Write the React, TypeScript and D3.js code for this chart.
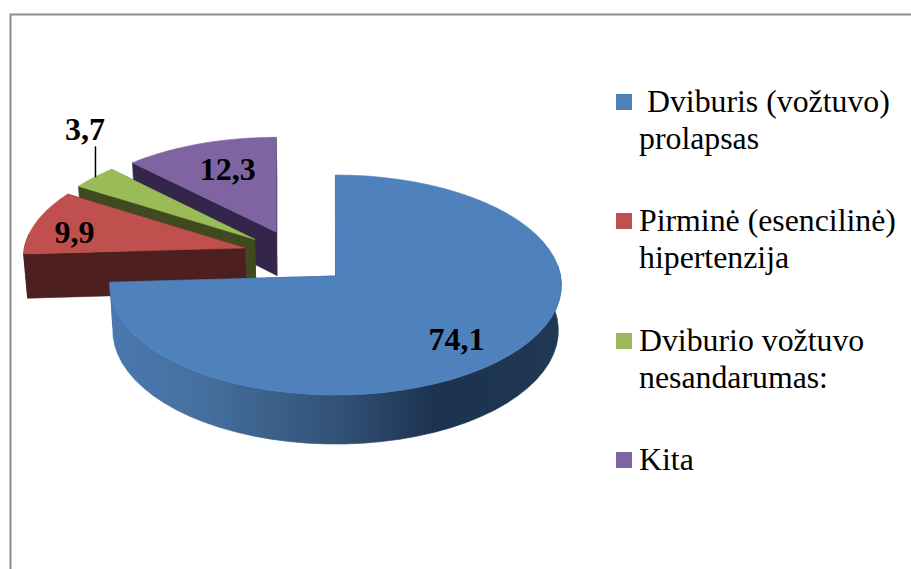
import React, { useEffect, useRef } from 'react';
import * as d3 from 'd3';

const width = 911;
const height = 569;

const categories = [
  ' Dviburis (vožtuvo)|prolapsas',
  'Pirminė (esencilinė)|hipertenzija',
  'Dviburio vožtuvo|nesandarumas:',
  'Kita'
];
const values = [74.1, 9.9, 3.7, 12.3];
const valueLabels = ['74,1', '9,9', '3,7', '12,3'];

const topColors = ['#4f81bd', '#c0504d', '#9bbb59', '#8064a2'];
const wallColors = ['#2f4d73', '#4d1f1f', '#3f4a20', '#33264a'];

// how far each slice is pulled out of the pie, in pie radius units (right, back)
const explode = [[0.007, 0], [-0.4, 0.262], [-0.355, 0.345], [-0.257, 0.416]];
// the point each slice's sides converge to
const vanishX = [334, 276, 276, 276];
// where the value label sits along the slice's middle angle
const labelRadius = [0.76, 0.78, 1, 0.67];
const labelNudge = [[-9, 4], [-7, 5], [1, -6], [4, -2]];
// slices are painted back to front
const paintOrder = [3, 2, 1, 0];

const cx = 334;
const cy = 276;
const rx = 225;
const ry = 109.3;
const persp = 0.082;
const depth = 45;
const bottomShrink = 0.013;

const legendTop = [94, 213, 333, 452];
const legendLineHeight = 36.5;

function project(u: number, v: number, z = 0, vx = cx): [number, number] {
  const s = 1 / (1 + persp * v);
  const x = vx + (cx - vx + rx * u) * s;
  return [cx + (x - cx) * (1 - (bottomShrink * z) / depth), cy - ry * v * s + z * s];
}

function App() {
  const ref = useRef<SVGSVGElement>(null);

  useEffect(() => {
    const svg = d3.select(ref.current);
    svg.selectAll('*').remove();

    const grad = svg
      .append('defs')
      .append('linearGradient')
      .attr('id', 'blueWall')
      .attr('gradientUnits', 'userSpaceOnUse')
      .attr('x1', 111)
      .attr('x2', 561)
      .attr('y1', 0)
      .attr('y2', 0);
    [[0, '#4a78ae'], [0.2, '#45709f'], [0.5, '#325277'], [0.72, '#1c3250'], [1, '#1f3854']].forEach(([o, c]) => {
      grad.append('stop').attr('offset', o as number).attr('stop-color', c as string);
    });

    // frame
    svg
      .append('path')
      .attr('d', `M${width},14.5H10.5V${height}`)
      .attr('fill', 'none')
      .attr('stroke', '#8c8c8c')
      .attr('stroke-width', 2);

    const pie = d3.pie<number>().sort(null);
    const arcs = pie(values);
    const line = d3.line();

    const chart = svg.append('g');

    paintOrder.forEach((i) => {
      const a = arcs[i];
      const [ox, oy] = explode[i];
      const vx = vanishX[i];
      const wall = i === 0 ? 'url(#blueWall)' : wallColors[i];
      const edge = (t: number): [number, number] => [ox + Math.sin(t), oy + Math.cos(t)];
      const steps = d3.range(0, 61).map((k) => a.startAngle + ((a.endAngle - a.startAngle) * k) / 60);
      const rim = steps.map((t) => edge(t));

      const face = (pts: [number, number][], fill: string) =>
        chart
          .append('path')
          .attr('d', line(pts) + 'Z')
          .attr('fill', fill)
          .attr('stroke', fill)
          .attr('stroke-width', 0.6)
          .attr('stroke-linejoin', 'round');

      const radial = (t: number) => {
        const [u, v] = edge(t);
        return [
          project(ox, oy, 0, vx),
          project(u, v, 0, vx),
          project(u, v, depth, vx),
          project(ox, oy, depth, vx)
        ] as [number, number][];
      };

      // back wall first, then rim, then the front wall and the top
      face(radial(a.endAngle), wallColors[i]);
      const frontRim = rim.filter(([, v]) => v - oy < 0.15);
      if (frontRim.length > 1) {
        face(
          [
            ...frontRim.map(([u, v]) => project(u, v, 0, vx)),
            ...frontRim.slice().reverse().map(([u, v]) => project(u, v, depth, vx))
          ],
          wall
        );
      }
      face(radial(a.startAngle), wallColors[i]);
      face([project(ox, oy, 0, vx), ...rim.map(([u, v]) => project(u, v, 0, vx))], topColors[i]);
    });

    const valueStyle = (sel: any) =>
      sel
        .attr('font-family', '"Liberation Serif", serif')
        .attr('font-weight', 'bold')
        .attr('font-size', 32)
        .attr('fill', '#000');

    arcs.forEach((a, i) => {
      const [ox, oy] = explode[i];
      const mid = (a.startAngle + a.endAngle) / 2;
      const r = labelRadius[i];
      const [x, y] = project(ox + r * Math.sin(mid), oy + r * Math.cos(mid), 0, vanishX[i]);
      const [nx, ny] = labelNudge[i];
      if (i === 2) {
        // the small slice has its label outside, on a leader line
        svg
          .append('line')
          .attr('x1', x + 1.5)
          .attr('x2', x + 1.5)
          .attr('y1', y)
          .attr('y2', y - 31)
          .attr('stroke', '#000')
          .attr('stroke-width', 1.5);
        valueStyle(svg.append('text'))
          .attr('x', x - 10 + nx)
          .attr('y', y - 31 + ny)
          .attr('text-anchor', 'middle')
          .text(valueLabels[i]);
      } else {
        valueStyle(svg.append('text'))
          .attr('x', x + nx)
          .attr('y', y + ny)
          .attr('dy', '0.33em')
          .attr('text-anchor', 'middle')
          .text(valueLabels[i]);
      }
    });

    // legend
    categories.forEach((c, i) => {
      svg
        .append('rect')
        .attr('x', 616)
        .attr('y', legendTop[i])
        .attr('width', 16)
        .attr('height', 16)
        .attr('fill', topColors[i]);
      c.split('|').forEach((t, k) => {
        svg
          .append('text')
          .attr('x', 639)
          .attr('y', legendTop[i] + 18 + k * legendLineHeight)
          .attr('font-family', '"Liberation Serif", serif')
          .attr('font-size', 31.8)
          .attr('fill', '#000')
          .style('white-space', 'pre')
          .text(t);
      });
    });
  }, []);

  return (
    <svg
      ref={ref}
      width={width}
      height={height}
      style={{ position: 'absolute', left: 0, top: 0, background: '#fff' }}
    />
  );
}

export default App;
